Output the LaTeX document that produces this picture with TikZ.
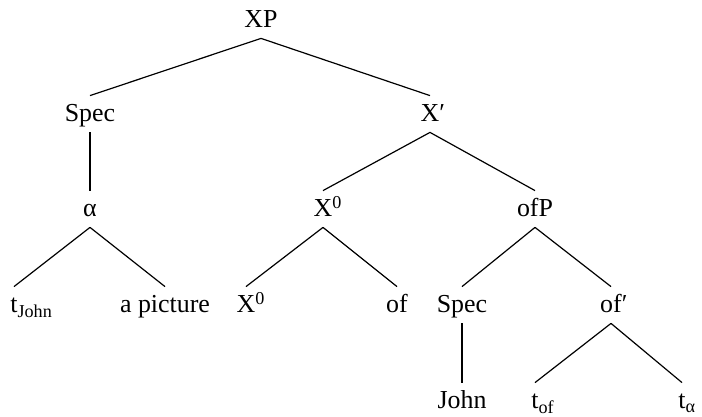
\documentclass[tikz,border=0pt]{standalone}
\usepackage{fontspec}
\setmainfont{Liberation Serif}
\tikzset{
  cat/.style={inner sep=0pt, text height=13bp, text depth=5bp, anchor=base,
    font=\fontsize{13}{15}\selectfont},
  branch/.style={line width=0.6bp}
}

\begin{document}
\begin{tikzpicture}[x=0.5bp,y=-0.5bp]
    \useasboundingbox (0,0) rectangle (702,417);

    % phrase level
    \node[cat] (xp) at (261,28) {XP};
    \node[cat] (spec) at (90,122) {Spec};
    \node[cat] (xbar) at (430,122) {X\rlap{′}};

    % second level
    \node[cat] (alpha) at (90,217) {α};
    \node[cat] (xzero) at (323,217) {X\rlap{\textsuperscript{0}}};
    \node[cat] (ofp) at (535,217) {ofP};

    % third level
    \node[cat] (tjohn) at (14,313) {t\rlap{\textsubscript{John}}};
    \node[cat] (pic) at (165,313) {a picture};
    \node[cat] (xhead) at (246,313) {X\rlap{\textsuperscript{0}}};
    \node[cat] (of) at (397,313) {of};
    \node[cat] (specb) at (462,313) {Spec};
    \node[cat] (ofbar) at (611,313) {of\rlap{′}};

    % traces and John
    \node[cat] (john) at (462,409) {John};
    \node[cat] (tof) at (535,409) {t\rlap{\textsubscript{of}}};
    \node[cat] (talpha) at (682,409) {t\rlap{\textsubscript{α}}};

    % branches
    \foreach \a/\b in {xp/spec, xp/xbar, spec/alpha, xbar/xzero, xbar/ofp,
        alpha/tjohn, alpha/pic, xzero/xhead, xzero/of, ofp/specb, ofp/ofbar,
        specb/john, ofbar/tof, ofbar/talpha}
      \draw[branch] (\a.south) -- (\b.north);
\end{tikzpicture}
\end{document}
